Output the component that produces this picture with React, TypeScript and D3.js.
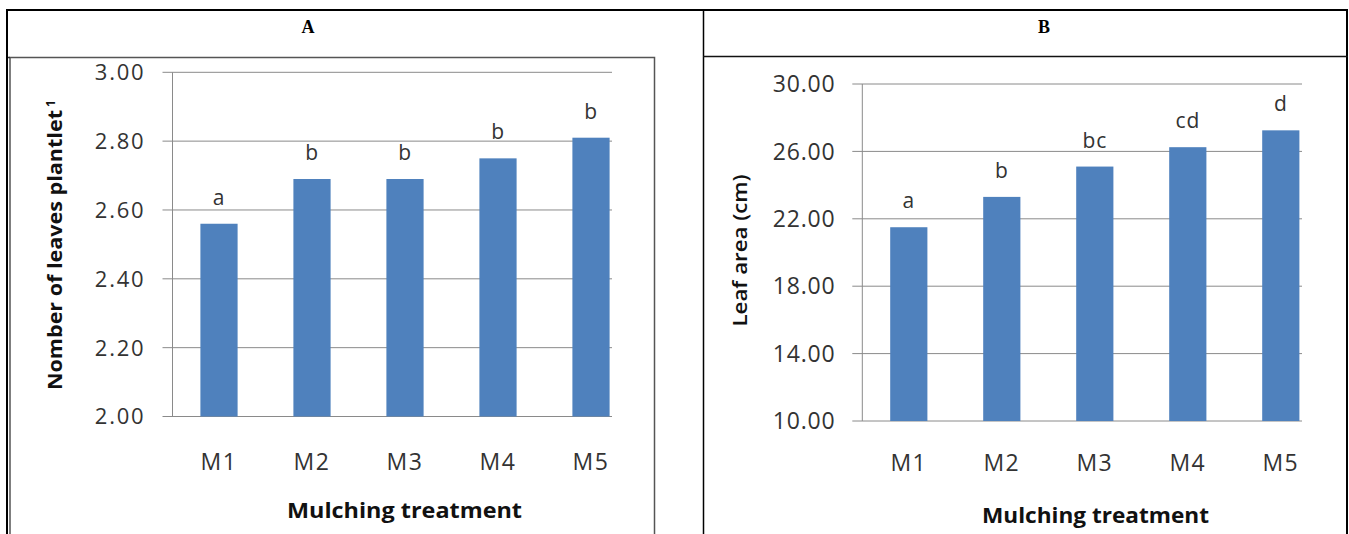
import React from "react";
import * as d3 from "d3";

const categories = ["M1", "M2", "M3", "M4", "M5"];
const leavesValues = [2.56, 2.69, 2.69, 2.75, 2.81];
const leavesLetters = ["a", "b", "b", "b", "b"];
const leavesTicks = [2.0, 2.2, 2.4, 2.6, 2.8, 3.0];
const areaValues = [21.5, 23.3, 25.1, 26.25, 27.25];
const areaLetters = ["a", "b", "bc", "cd", "d"];
const areaTicks = [10, 14, 18, 22, 26, 30];

const BAR = "#4F81BD";
const GRID = "#8a8a8a";
const TXT = "#333333";
const FONT = "'Open Sans', 'Noto Sans', sans-serif";
const fmt = d3.format(".2f");

type PanelProps = {
  values: number[];
  letters: string[];
  ticks: number[];
  yDomain: [number, number];
  yRange: [number, number];
  xStart: number;
  gridEnd: number;
  tickRight: number;
  tickFont: number;
  tickSpacing: number;
  catY: number;
  titleX: number;
  titleY: number;
  titleLen: number;
};

function Panel(p: PanelProps) {
  const y = d3.scaleLinear().domain(p.yDomain).range(p.yRange);
  const x = d3
    .scaleBand<string>()
    .domain(categories)
    .range([p.xStart, p.xStart + 93 * categories.length])
    .padding(0);
  const bw = x.bandwidth() * 0.4;
  const axisX = p.xStart;
  return (
    <g fontFamily={FONT}>
      {p.ticks.map((t) => (
        <g key={t}>
          <line x1={axisX - 10} x2={p.gridEnd} y1={y(t)} y2={y(t)} stroke={GRID} strokeWidth={1} />
          <text
            x={p.tickRight}
            y={y(t)}
            dy="0.36em"
            textAnchor="end"
            fontSize={p.tickFont}
            letterSpacing={p.tickSpacing}
            fill={TXT}
          >
            {fmt(t)}
          </text>
        </g>
      ))}
      <line x1={axisX} x2={axisX} y1={y(p.yDomain[1])} y2={y(p.yDomain[0])} stroke={GRID} strokeWidth={1} />
      {categories.map((c, i) => {
        const cx = (x(c) as number) + x.bandwidth() / 2;
        const top = y(p.values[i]);
        return (
          <g key={c}>
            <rect x={cx - bw / 2} y={top} width={bw} height={y(p.yDomain[0]) - top} fill={BAR} />
            <text x={cx} y={top - 19} textAnchor="middle" fontSize={21} letterSpacing={0.8} fill={TXT}>
              {p.letters[i]}
            </text>
            <text x={cx} y={p.catY} textAnchor="middle" fontSize={23} letterSpacing={1.5} fill={TXT}>
              {c}
            </text>
          </g>
        );
      })}
      <text
        x={p.titleX}
        y={p.titleY}
        textAnchor="middle"
        fontSize={22}
        fontWeight={700}
        fill="#111"
        textLength={p.titleLen}
        lengthAdjust="spacingAndGlyphs"
      >
        Mulching treatment
      </text>
    </g>
  );
}

export default function App() {
  return (
    <svg
      width={1349}
      height={534}
      style={{ position: "absolute", left: 0, top: 0, display: "block", background: "#fff" }}
    >
      {/* table borders */}
      <line x1={7} x2={7} y1={9} y2={534} stroke="#000" strokeWidth={2} />
      <line x1={1347} x2={1347} y1={9} y2={534} stroke="#000" strokeWidth={2} />
      <line x1={703.5} x2={703.5} y1={9} y2={534} stroke="#000" strokeWidth={1.5} />
      <line x1={6} x2={1348} y1={10} y2={10} stroke="#000" strokeWidth={2} />
      <line x1={703} x2={1348} y1={56.5} y2={56.5} stroke="#111" strokeWidth={1.5} />
      {/* left chart frame */}
      <rect x={10} y={57.5} width={644.5} height={490} fill="none" stroke="#555" strokeWidth={1.5} />
      <line x1={8} x2={10} y1={57.5} y2={57.5} stroke="#333" strokeWidth={1.5} />

      <text x={308} y={33} textAnchor="middle" fontFamily="'Liberation Serif', 'Times New Roman', serif" fontWeight={700} fontSize={18} fill="#000">
        A
      </text>
      <text x={1044} y={33} textAnchor="middle" fontFamily="'Liberation Serif', 'Times New Roman', serif" fontWeight={700} fontSize={18} fill="#000">
        B
      </text>

      <Panel
        values={leavesValues}
        letters={leavesLetters}
        ticks={leavesTicks}
        yDomain={[2, 3]}
        yRange={[416.5, 72.3]}
        xStart={172.5}
        gridEnd={612}
        tickRight={145.5}
        tickFont={22}
        tickSpacing={1.8}
        catY={469.5}
        titleX={404.5}
        titleY={518}
        titleLen={235}
      />
      <text
        transform="translate(61.5,390) rotate(-90)"
        fontFamily={FONT}
        fontSize={20}
        fontWeight={700}
        fill="#111"
        textLength={280}
        lengthAdjust="spacingAndGlyphs"
      >
        Nomber of leaves plantlet
      </text>
      <text transform="translate(55,107) rotate(-90)" fontFamily={FONT} fontSize={12} fontWeight={700} fill="#111">
        1
      </text>

      <Panel
        values={areaValues}
        letters={areaLetters}
        ticks={areaTicks}
        yDomain={[10, 30]}
        yRange={[421, 84]}
        xStart={862.3}
        gridEnd={1302}
        tickRight={835.5}
        tickFont={23}
        tickSpacing={0.8}
        catY={471}
        titleX={1095.5}
        titleY={523}
        titleLen={227}
      />
      <text
        transform="translate(747,326.5) rotate(-90)"
        fontFamily={FONT}
        fontSize={20}
        fontWeight={600}
        fill="#111"
        textLength={152}
        lengthAdjust="spacingAndGlyphs"
      >
        Leaf area (cm)
      </text>
    </svg>
  );
}
